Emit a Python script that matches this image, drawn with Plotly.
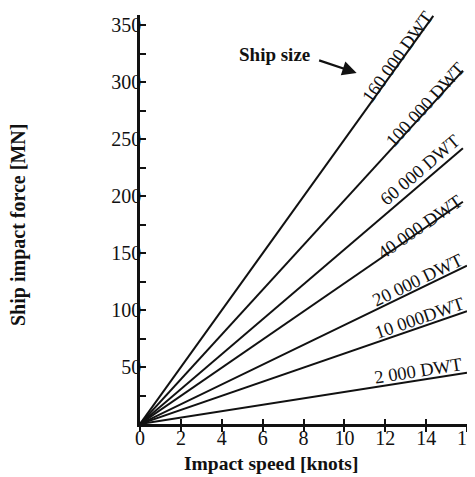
import math
import plotly.graph_objects as go

# Data
ship_sizes = ["160 000 DWT", "100 000 DWT", "60 000 DWT", "40 000 DWT",
              "20 000 DWT", "10 000DWT", "2 000 DWT"]
end_speed = [14.35, 15.8, 15.8, 15.8, 16.0, 16.0, 16.0]
end_force = [358, 310, 242, 195, 139, 99, 45]
label_speed = [12.6, 13.95, 13.7, 13.7, 13.6, 13.7, 13.6]
label_force = [322, 280, 223, 173, 126, 93, 46.5]
x_ticks = [0, 2, 4, 6, 8, 10, 12, 14, 16]
y_ticks = [50, 100, 150, 200, 250, 300, 350]

# page body has an 8px margin: figure placed at (8, 8) in the 475x477 window
OFF = 8
W, H = 475 - OFF, 477 - OFF
L, R, T, B = 140 - OFF, 8, 15 - OFF, 53
XR = [0, 16]
YR = [0, 358.8]
pw, ph = W - L - R, H - T - B
sx, sy = pw / (XR[1] - XR[0]), ph / (YR[1] - YR[0])
plot_left, plot_bottom = 140, 424  # window px

serif = "Liberation Serif, Times New Roman, serif"
fig = go.Figure()
for name, xe, ye in zip(ship_sizes, end_speed, end_force):
    fig.add_trace(go.Scatter(x=[0, xe], y=[0, ye], mode="lines",
                             line=dict(color="#111", width=2), name=name,
                             showlegend=False, hoverinfo="skip"))

# invisible trace on second x axis that carries the upward half of the x ticks
fig.add_trace(go.Scatter(x=[0], y=[0], xaxis="x2", mode="markers",
                         marker=dict(opacity=0), showlegend=False, hoverinfo="skip"))

anns = []
for name, xe, ye, lx, ly in zip(ship_sizes, end_speed, end_force, label_speed, label_force):
    ang = math.degrees(math.atan2(ye * sy, xe * sx))
    anns.append(dict(x=lx, y=ly, text=name, showarrow=False, textangle=-ang,
                     xanchor="center", yanchor="middle",
                     font=dict(family=serif, size=18.5, color="#111")))

anns.append(dict(x=6.6, y=324, text="<b>Ship size</b>", showarrow=False,
                 xanchor="center", yanchor="middle",
                 font=dict(family=serif, size=19, color="#111")))
anns.append(dict(x=10.6, y=308, ax=-39, ay=-13, text="", showarrow=True,
                 arrowhead=2, arrowsize=1.3, arrowwidth=2.2, arrowcolor="#111"))
anns.append(dict(xref="paper", yref="paper", x=(271 - plot_left) / pw,
                 y=-(463 - plot_bottom) / ph, xanchor="center", yanchor="middle",
                 text="<b>Impact speed [knots]</b>", showarrow=False,
                 font=dict(family=serif, size=19.5, color="#111")))
anns.append(dict(xref="paper", yref="paper", x=(18 - plot_left) / pw,
                 y=(plot_bottom - 225) / ph, xanchor="center", yanchor="middle",
                 text="<b>Ship impact force [MN]</b>", showarrow=False, textangle=-90,
                 borderpad=0,
                 font=dict(family=serif, size=20, color="#111")))

fig.update_layout(
    width=W, height=H, margin=dict(l=L, r=R, t=T, b=B, autoexpand=False),
    paper_bgcolor="white", plot_bgcolor="white",
    annotations=anns,
    xaxis=dict(range=XR, tickvals=x_ticks, ticktext=[str(v) for v in x_ticks],
               automargin=False,
               showgrid=False, zeroline=False, showline=True, linecolor="#111",
               linewidth=2.5, ticks="outside", ticklen=5, tickwidth=2, tickcolor="#111",
               ticklabelstandoff=-11, ticklabeloverflow="allow",
               tickfont=dict(family=serif, size=20, color="#111"), fixedrange=True),
    xaxis2=dict(range=XR, overlaying="x", tickvals=x_ticks[1:], showticklabels=False,
                automargin=False,
                showgrid=False, zeroline=False, showline=False, ticks="inside",
                ticklen=5, tickwidth=2, tickcolor="#111", side="bottom", fixedrange=True),
    yaxis=dict(range=YR, tickvals=y_ticks, ticktext=[str(v) for v in y_ticks],
               automargin=False,
               showgrid=False, zeroline=False, showline=True, linecolor="#111",
               linewidth=2.5, ticks="inside", ticklen=6, tickwidth=2, tickcolor="#111",
               ticklabelstandoff=-8,
               tickfont=dict(family=serif, size=20, color="#111"),
               minor=dict(tickvals=[25, 75, 125, 175, 225, 275, 325], ticks="inside",
                          ticklen=6, tickwidth=2, tickcolor="#111", showgrid=False),
               fixedrange=True),
)
fig.write_html("out.html")
